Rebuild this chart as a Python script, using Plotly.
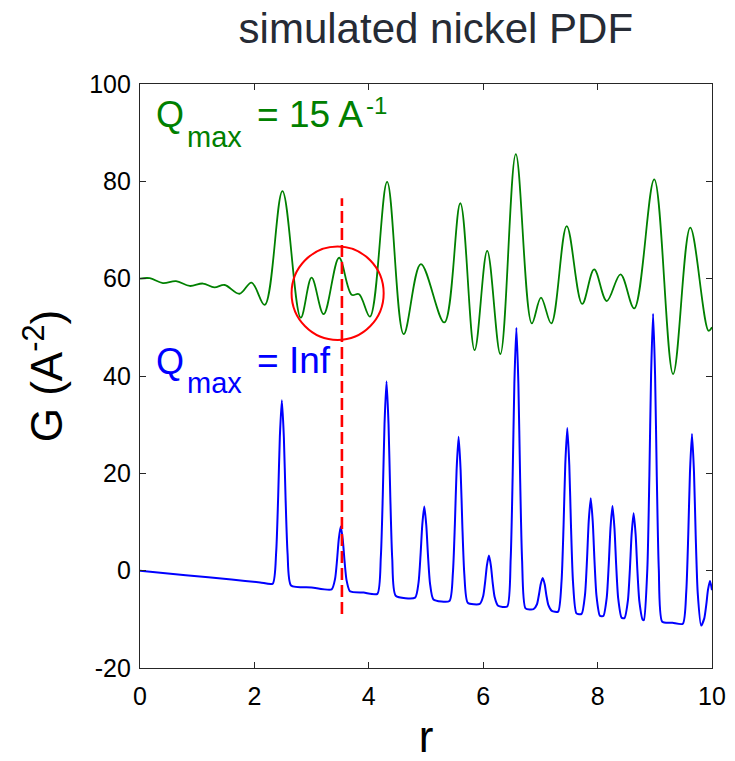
import plotly.graph_objects as go

# Green curve: Qmax = 15 A^-1 (extrema)
r_green = [0.0, 0.17, 0.40, 0.63, 0.87, 1.10, 1.30, 1.48, 1.74, 1.95, 2.18, 2.49, 2.81,
           3.00, 3.21, 3.48, 3.70, 3.83, 4.02, 4.32, 4.61, 4.91, 5.32, 5.60, 5.85,
           6.07, 6.30, 6.57, 6.85, 7.01, 7.19, 7.46, 7.73, 7.94, 8.16, 8.40, 8.64,
           8.99, 9.32, 9.62, 9.94, 10.0]
g_green = [60.0, 60.1, 59.1, 59.5, 58.5, 59.0, 58.2, 58.7, 56.9, 59.2, 54.6, 78.0, 52.0,
           60.2, 52.7, 64.3, 56.7, 56.8, 52.2, 79.9, 48.6, 63.0, 51.0, 75.5, 45.3,
           65.7, 44.5, 85.6, 50.8, 56.1, 50.8, 70.8, 54.8, 61.9, 55.4, 60.9, 53.9,
           80.4, 40.4, 70.5, 49.3, 50.0]

# Blue curve: Qmax = Inf (sharp peaks on a sloping baseline)
r_blue = [0.0, 0.8, 1.6, 2.1,
          2.32, 2.38, 2.415, 2.445, 2.48, 2.515, 2.545, 2.58, 2.64,
          3.0,
          3.35, 3.41, 3.445, 3.475, 3.51, 3.545, 3.575, 3.61, 3.67,
          3.91,
          4.15, 4.21, 4.245, 4.275, 4.31, 4.345, 4.375, 4.41, 4.47,
          4.81, 4.87, 4.905, 4.935, 4.97, 5.005, 5.035, 5.07, 5.13,
          5.41, 5.47, 5.505, 5.535, 5.57, 5.605, 5.635, 5.67, 5.73,
          5.94, 6.0, 6.035, 6.065, 6.10, 6.135, 6.165, 6.2, 6.26,
          6.42, 6.48, 6.515, 6.545, 6.58, 6.615, 6.645, 6.68, 6.74,
          6.88, 6.94, 6.975, 7.005, 7.04, 7.075, 7.105, 7.14, 7.2,
          7.31, 7.37, 7.405, 7.435, 7.47, 7.505, 7.535, 7.57, 7.63,
          7.72, 7.78, 7.815, 7.845, 7.88, 7.915, 7.945, 7.98, 8.04,
          8.10, 8.16, 8.195, 8.225, 8.26, 8.295, 8.325, 8.36, 8.42,
          8.47, 8.53, 8.565, 8.595, 8.63, 8.665, 8.695, 8.73, 8.79,
          8.81, 8.87, 8.905, 8.935, 8.97, 9.005, 9.035, 9.07, 9.13,
          9.31,
          9.49, 9.55, 9.585, 9.615, 9.65, 9.685, 9.715, 9.75, 9.81,
          9.865, 9.9, 9.93, 9.965, 10.0]
g_blue = [0.0, -0.92, -1.84, -2.42,
          -2.67, 3.7, 15.0, 27.5, 35.0, 27.4, 14.9, 3.5, -3.04,
          -3.45,
          -3.85, -1.7, 2.2, 6.5, 9.1, 6.4, 2.1, -1.9, -4.22,
          -4.5,
          -4.77, 2.7, 15.7, 30.2, 38.9, 30.1, 15.6, 2.4, -5.14,
          -5.53, -2.4, 3.3, 9.4, 13.2, 9.3, 3.1, -2.6, -5.9,
          -6.22, -0.5, 9.6, 20.7, 27.5, 20.7, 9.4, -0.7, -6.59,
          -6.83, -5.2, -2.2, 1.1, 3.1, 1.0, -2.4, -5.4, -7.2,
          -7.38, 2.3, 19.5, 38.5, 49.9, 38.4, 19.4, 2.1, -7.75,
          -7.91, -6.9, -4.9, -2.8, -1.5, -2.8, -5.1, -7.1, -8.28,
          -8.41, -2.1, 9.3, 21.8, 29.3, 21.7, 9.1, -2.3, -8.77,
          -8.88, -4.9, 2.3, 10.2, 14.9, 10.1, 2.2, -5.1, -9.25,
          -9.32, -5.5, 1.3, 8.7, 13.3, 8.7, 1.1, -5.7, -9.68,
          -9.74, -6.1, 0.4, 7.5, 11.8, 7.4, 0.2, -6.3, -10.11,
          -10.13, 0.5, 19.5, 40.2, 52.8, 40.1, 19.3, 0.3, -10.5,
          -10.7,
          -10.91, -4.3, 7.4, 20.3, 28.1, 20.3, 7.2, -4.5, -11.28,
          -9.8, -7.0, -3.9, -2.1, -4.0]

# Axis ticks
x_ticks = [0, 2, 4, 6, 8, 10]
y_ticks = [-20, 0, 20, 40, 60, 80, 100]
y_tick_text = ["-20", "0", "20", "40", "60", "80", "100"]

# Annotation marks
marker_r = 3.53
marker_g = [-8.9, 76.5]
circle_r = [2.65, 4.26]
circle_g = [47.4, 66.6]

FONT = "Liberation Sans, Arial, sans-serif"
W, H = 735, 761
ML, MR, MT, MB = 140, 23, 84, 93


def px2paper(px, py):
    """Convert a page pixel position into paper coordinates."""
    return (px - ML) / (W - ML - MR), (H - MB - py) / (H - MT - MB)


fig = go.Figure()
fig.add_trace(go.Scatter(x=r_green, y=g_green, mode="lines",
                         line=dict(color="#008000", width=1.8, shape="spline", smoothing=1.0),
                         showlegend=False, hoverinfo="skip"))
fig.add_trace(go.Scatter(x=r_blue, y=g_blue, mode="lines",
                         line=dict(color="#0000FF", width=2, shape="spline", smoothing=0.6),
                         showlegend=False, hoverinfo="skip"))
fig.add_trace(go.Scatter(x=[marker_r, marker_r], y=marker_g, mode="lines",
                         line=dict(color="#FF0000", width=2.6, dash="12px,5px"),
                         showlegend=False, hoverinfo="skip"))

fig.add_shape(type="circle", xref="x", yref="y",
              x0=circle_r[0], x1=circle_r[1], y0=circle_g[0], y1=circle_g[1],
              line=dict(color="#FF0000", width=2))


def label(text, px_left, py_base, size, color):
    # annotation placed so that the text baseline sits at py_base
    xp, yp = px2paper(px_left, py_base - 0.34 * size)
    fig.add_annotation(x=xp, y=yp, xref="paper", yref="paper", xanchor="left",
                       yanchor="middle", text=text, showarrow=False,
                       font=dict(family=FONT, size=size, color=color))


GREEN, BLUE = "#008000", "#0000FF"
label("Q", 154, 126.7, 36, GREEN)
label("max", 185, 146.7, 29, GREEN)
label("= 15 A", 255, 126.7, 37, GREEN)
label("-1", 364, 113.3, 24, GREEN)
label("Q", 154, 373.3, 36, BLUE)
label("max", 185, 393.3, 29, BLUE)
label("= Inf", 255, 373.3, 37, BLUE)

axis_common = dict(showgrid=False, zeroline=False, showline=True, linecolor="#262626",
                   linewidth=1.2, mirror="ticks", ticks="inside", ticklen=6,
                   tickcolor="#262626", automargin=False,
                   tickfont=dict(family=FONT, size=25, color="#000000"))

fig.update_xaxes(range=[0, 10], tickvals=x_ticks, ticklabelstandoff=6,
                 title=dict(text="r", font=dict(family=FONT, size=44, color="#000000"), standoff=20),
                 **axis_common)
fig.update_yaxes(range=[-20, 100], tickvals=y_ticks, ticktext=y_tick_text, ticklabelstandoff=3,
                 title=dict(text="G (A<sup>-2</sup>)", font=dict(family=FONT, size=44, color="#000000"),
                            standoff=12),
                 **axis_common)

fig.update_layout(
    width=W, height=H,
    margin=dict(l=ML, r=MR, t=MT, b=MB, autoexpand=False),
    paper_bgcolor="#FFFFFF", plot_bgcolor="#FFFFFF",
    title=dict(text="simulated nickel PDF", x=0.593, xanchor="center", y=0.963, yanchor="middle",
               font=dict(family=FONT, size=42, color="#262B35")),
)

fig.write_html("out.html")
